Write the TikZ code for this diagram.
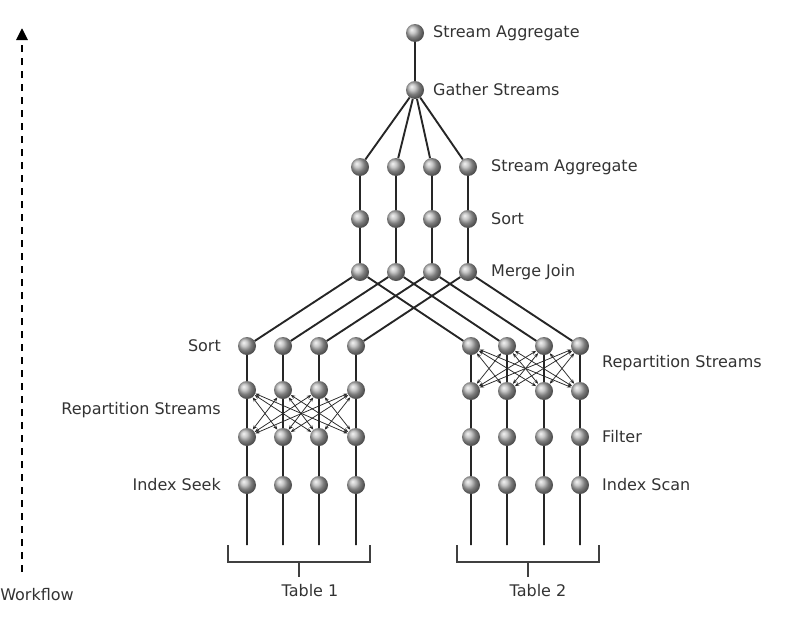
\documentclass[tikz,border=0pt]{standalone}
\usepackage{fontspec}
\setmainfont{DejaVu Sans}
\usetikzlibrary{arrows.meta}

\tikzset{
  ball/.style={circle,shading=ball,ball color=gray!60,minimum size=18pt,inner sep=0pt},
  pipe/.style={line width=1.9pt,draw=black!85},
  xchg/.style={line width=0.75pt,draw=black!85,
    {Stealth[length=4.5pt,width=3.5pt]}-{Stealth[length=4.5pt,width=3.5pt]}},
  opname/.style={font=\fontsize{16}{19}\selectfont,text=black!80,inner sep=0pt},
  brack/.style={line width=1.9pt,draw=black!75},
}

\begin{document}
\begin{tikzpicture}[x=1pt,y=-1pt]
  \useasboundingbox (0,0) rectangle (800,621);
  % final operators
  \node[ball] (top) at (415,33) {};
  \node[ball] (gather) at (415,90) {};
  \node[opname,anchor=west] (ltop) at (433,33) {Stream Aggregate};
  \node[opname,anchor=west] (lgather) at (433,90) {Gather Streams};
  \draw[pipe] (gather) -- (top);
  \foreach \i/\x in {1/360,2/396,3/432,4/468}{
    \node[ball] (agg\i) at (\x,167) {};
    \node[ball] (srt\i) at (\x,219) {};
    \node[ball] (mj\i) at (\x,272) {};
    \draw[pipe] (mj\i) -- (srt\i) -- (agg\i) -- (gather);
  }
  \node[opname,anchor=west] (lagg) at (491,167) {Stream Aggregate};
  \node[opname,anchor=west] (lsrt) at (491,219) {Sort};
  \node[opname,anchor=west] (lmj) at (491,272) {Merge Join};
  % table 1 branch
  \foreach \i/\x in {1/247,2/283,3/319,4/356}{
    \node[ball] (lsrt\i) at (\x,346) {};
    \node[ball] (lrpa\i) at (\x,390) {};
    \node[ball] (lrpb\i) at (\x,437) {};
    \node[ball] (seek\i) at (\x,485) {};
    \coordinate (lend\i) at (\x,545);
    \draw[pipe] (lend\i) -- (seek\i) -- (lrpb\i) -- (lrpa\i) -- (lsrt\i) -- (mj\i);
  }
  \foreach \i in {1,...,4}{\foreach \j in {1,...,4}{
    \ifnum\i=\j\else\draw[xchg] (lrpb\i) -- (lrpa\j);\fi}}
  \node[opname,anchor=east] (lsort) at (221,346) {Sort};
  \node[opname,anchor=east] (lrep) at (221,410) {Repartition Streams};
  \node[opname,anchor=east] (lseek) at (221,485) {Index Seek};
  % table 2 branch
  \foreach \i/\x in {1/471,2/507,3/544,4/580}{
    \node[ball] (rrpa\i) at (\x,346) {};
    \node[ball] (rrpb\i) at (\x,391) {};
    \node[ball] (filt\i) at (\x,437) {};
    \node[ball] (scan\i) at (\x,485) {};
    \coordinate (rend\i) at (\x,545);
    \draw[pipe] (rend\i) -- (scan\i) -- (filt\i) -- (rrpb\i) -- (rrpa\i) -- (mj\i);
  }
  \foreach \i in {1,...,4}{\foreach \j in {1,...,4}{
    \ifnum\i=\j\else\draw[xchg] (rrpb\i) -- (rrpa\j);\fi}}
  \node[opname,anchor=west] (rrep) at (602,363) {Repartition Streams};
  \node[opname,anchor=west] (rfilt) at (602,437) {Filter};
  \node[opname,anchor=west] (rscan) at (602,485) {Index Scan};
  % tables
  \draw[brack] (228,545) -- (228,562) -- (370,562) -- (370,545);
  \draw[brack] (299,562) -- (299,577);
  \node[opname] (tab1) at (310,591) {Table 1};
  \draw[brack] (457,545) -- (457,562) -- (599,562) -- (599,545);
  \draw[brack] (528,562) -- (528,577);
  \node[opname] (tab2) at (538,591) {Table 2};
  % workflow arrow
  \coordinate (wfbot) at (22,572);
  \coordinate (wftop) at (22,28);
  \draw[line width=2.8pt,dash pattern=on 7pt off 6pt,-{Triangle[length=12pt,width=11pt]}]
    (wfbot) -- (wftop);
  \node[opname] (wf) at (37,595) {Workflow};
\end{tikzpicture}
\end{document}
